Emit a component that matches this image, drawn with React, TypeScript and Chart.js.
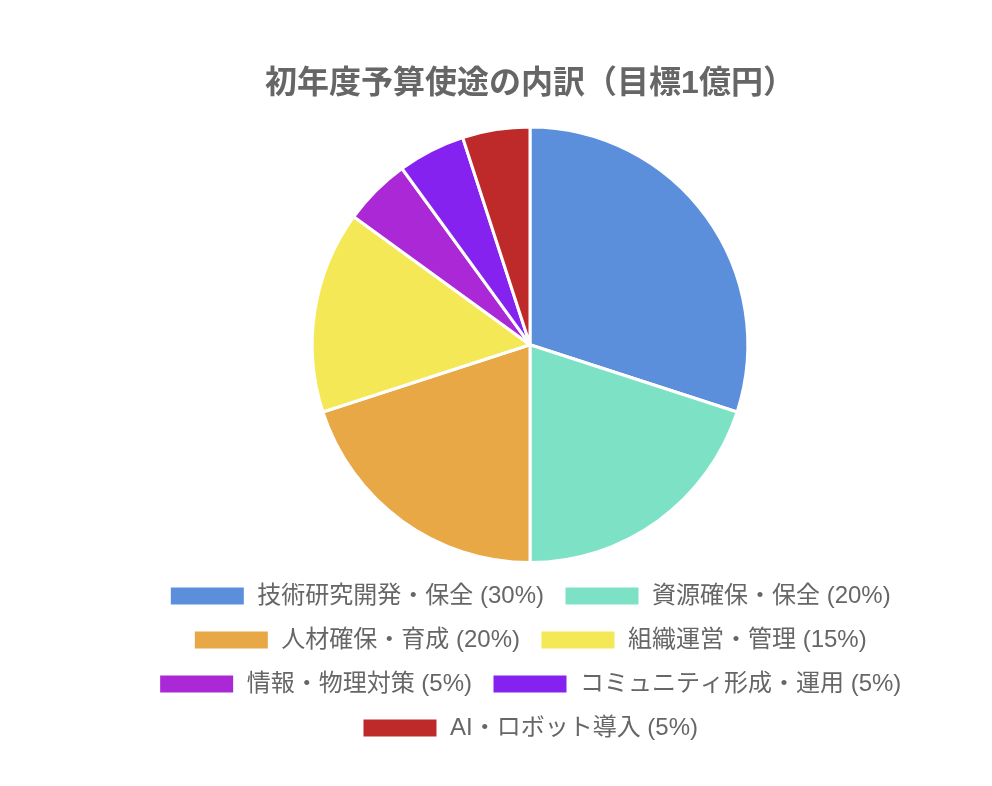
import React, { useEffect, useRef } from 'react';
import Chart from 'chart.js/auto';

const labels = [
  '技術研究開発・保全 (30%)',
  '資源確保・保全 (20%)',
  '人材確保・育成 (20%)',
  '組織運営・管理 (15%)',
  '情報・物理対策 (5%)',
  'コミュニティ形成・運用 (5%)',
  'AI・ロボット導入 (5%)',
];
const values = [30, 20, 20, 15, 5, 5, 5];
const colors = ['#5B8FDC', '#7DE2C5', '#E9A846', '#F5E856', '#AA28D6', '#8522F0', '#BE2A2A'];

const FONT = '"Liberation Sans", Arial, "Noto Sans CJK JP", sans-serif';

const BudgetPie: React.FC = () => {
  const chartRef = useRef<HTMLCanvasElement>(null);
  const chartInstanceRef = useRef<Chart | null>(null);

  useEffect(() => {
    if (!chartRef.current) return;
    if (chartInstanceRef.current) chartInstanceRef.current.destroy();
    const ctx = chartRef.current.getContext('2d');
    if (!ctx) return;
    chartInstanceRef.current = new Chart(ctx, {
      type: 'pie',
      data: {
        labels,
        datasets: [{
          data: values,
          backgroundColor: colors,
          borderColor: '#ffffff',
          borderWidth: 3,
        }],
      },
      options: {
        responsive: true,
        maintainAspectRatio: false,
        animation: false,
        layout: { padding: { top: 20, bottom: 20 } },
        plugins: {
          title: {
            display: true,
            text: '初年度予算使途の内訳（目標1億円）',
            color: '#666',
            font: { size: 32, weight: 'bold', family: FONT },
            padding: { top: 37, bottom: 22 },
          },
          legend: {
            position: 'bottom',
            labels: {
              color: '#666',
              font: { size: 24, family: FONT },
              boxWidth: 76,
              boxHeight: 20,
              padding: 20,
            },
          },
          tooltip: { enabled: false },
        },
      },
    });
    return () => {
      if (chartInstanceRef.current) {
        chartInstanceRef.current.destroy();
        chartInstanceRef.current = null;
      }
    };
  }, []);

  return (
    <div style={{ position: 'relative', width: 900, height: 762, marginLeft: 72 }}>
      <canvas ref={chartRef}></canvas>
    </div>
  );
};

export default function App() {
  return <BudgetPie />;
}
